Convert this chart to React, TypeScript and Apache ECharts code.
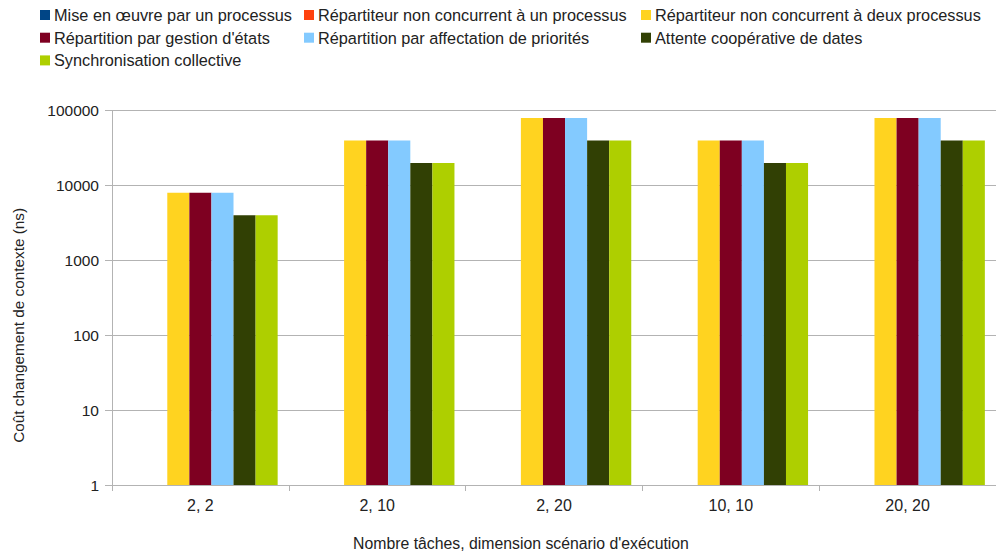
import React, { useEffect, useRef } from "react";
import * as echarts from "echarts";

const categories = ["2, 2", "2, 10", "2, 20", "10, 10", "20, 20"];

const seriesNames = [
  "Mise en œuvre par un processus",
  "Répartiteur non concurrent à un processus",
  "Répartiteur non concurrent à deux processus",
  "Répartition par gestion d'états",
  "Répartition par affectation de priorités",
  "Attente coopérative de dates",
  "Synchronisation collective",
];

const seriesColors = ["#004586", "#ff420e", "#ffd320", "#7e0021", "#83caff", "#314004", "#aecf00"];

const miseEnOeuvre = [null, null, null, null, null];
const repartiteurUn = [null, null, null, null, null];
const repartiteurDeux = [8000, 40000, 80000, 40000, 80000];
const gestionEtats = [8000, 40000, 80000, 40000, 80000];
const affectationPriorites = [8000, 40000, 80000, 40000, 80000];
const attenteCooperative = [4000, 20000, 40000, 20000, 40000];
const synchronisation = [4000, 20000, 40000, 20000, 40000];

const seriesValues = [
  miseEnOeuvre,
  repartiteurUn,
  repartiteurDeux,
  gestionEtats,
  affectationPriorites,
  attenteCooperative,
  synchronisation,
];

const legendColumns = [
  [0, 3, 6],
  [1, 4],
  [2, 5],
];
const legendLefts = [40, 304, 641];

const FONT = "'Liberation Sans', Arial, sans-serif";
const TEXT = "#222222";
const GRAY = "#b3b3b3";

export default function App() {
  const ref = useRef<HTMLDivElement>(null);

  useEffect(() => {
    if (!ref.current) return;
    const chart = echarts.init(ref.current, undefined, { renderer: "svg" });
    chart.setOption({
      animation: false,
      textStyle: { fontFamily: FONT },
      legend: legendColumns.map((col, i) => ({
        orient: "vertical",
        left: legendLefts[i],
        top: 7,
        padding: 0,
        itemGap: 6.7,
        itemWidth: 10,
        itemHeight: 10,
        icon: "rect",
        selectedMode: false,
        textStyle: { fontFamily: FONT, fontSize: 16.3, color: TEXT, lineHeight: 16, padding: [0, 0, 0, -1] },
        data: col.map((k) => seriesNames[k]),
      })),
      grid: { left: 112, right: -8.5, top: 110.7, bottom: 71, containLabel: false },
      xAxis: {
        type: "category",
        data: categories,
        boundaryGap: true,
        axisLine: { show: true, lineStyle: { color: GRAY, width: 1 } },
        axisTick: { show: true, length: 6, lineStyle: { color: GRAY } },
        axisLabel: { fontFamily: FONT, fontSize: 16, color: TEXT, margin: 12 },
        name: "Nombre tâches, dimension scénario d'exécution",
        nameLocation: "middle",
        nameGap: 50,
        nameTextStyle: { fontFamily: FONT, fontSize: 15.8, color: TEXT, padding: [0, 66, 0, 0] },
      },
      yAxis: {
        type: "log",
        logBase: 10,
        min: 1,
        max: 100000,
        axisLine: { show: true, lineStyle: { color: GRAY, width: 1 } },
        axisTick: { show: true, length: 7, lineStyle: { color: GRAY } },
        splitLine: { show: true, lineStyle: { color: GRAY, width: 1 } },
        minorTick: { show: false },
        axisLabel: {
          fontFamily: FONT,
          fontSize: 15.5,
          color: TEXT,
          margin: 13,
          formatter: (v: number) => String(Math.round(v)),
        },
        name: "Coût changement de contexte (ns)",
        nameLocation: "middle",
        nameGap: 86,
        nameRotate: 90,
        nameTextStyle: { fontFamily: FONT, fontSize: 15.3, color: TEXT, padding: [0, 55, 0, 0] },
      },
      series: seriesNames.map((name, i) => ({
        name,
        type: "bar",
        data: seriesValues[i],
        barGap: "0%",
        barCategoryGap: "12.6%",
        itemStyle: { color: seriesColors[i] },
        emphasis: { disabled: true },
      })),
    });
    return () => chart.dispose();
  }, []);

  return (
    <div
      ref={ref}
      style={{ position: "fixed", left: 0, top: 0, width: 996, height: 556, background: "#ffffff" }}
    />
  );
}
